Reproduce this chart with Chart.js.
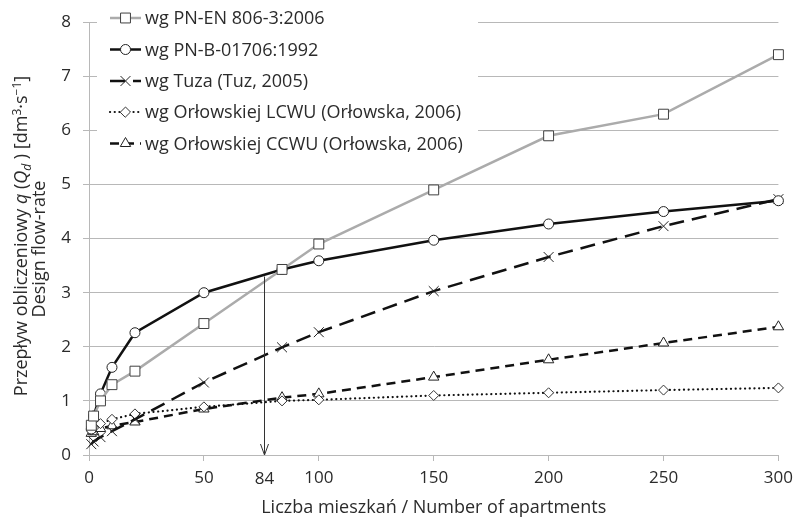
<!DOCTYPE html>
<html lang="pl">
<head>
<meta charset="UTF-8">
<title>Przepływ obliczeniowy</title>
<script src="https://cdn.jsdelivr.net/npm/chart.js"></script>
<style>
  html, body { margin: 0; padding: 0; background: #fff; }
</style>
</head>
<body>
<canvas id="flowChart" width="800" height="523"></canvas>
<script>
// number of apartments (x) and design flow-rate values [dm3/s]
const apartments = [1, 2, 5, 10, 20, 50, 84, 100, 150, 200, 250, 300];
const pnEn806 = [0.55, 0.72, 1.0, 1.3, 1.55, 2.43, 3.43, 3.9, 4.9, 5.9, 6.3, 7.4];
const pnB01706 = [0.48, 0.72, 1.13, 1.62, 2.26, 3.0, 3.43, 3.59, 3.97, 4.27, 4.5, 4.7];
const tuz = [0.2, 0.25, 0.33, 0.44, 0.66, 1.34, 1.99, 2.27, 3.03, 3.66, 4.23, 4.73];
const orlowskaLcwu = [0.46, 0.5, 0.58, 0.66, 0.76, 0.89, 1.0, 1.02, 1.1, 1.15, 1.2, 1.24];
const orlowskaCcwu = [0.4, 0.43, 0.49, 0.54, 0.61, 0.85, 1.06, 1.13, 1.44, 1.76, 2.07, 2.37];

const seriesLabels = [
    'wg PN-EN 806-3:2006',
    'wg PN-B-01706:1992',
    'wg Tuza (Tuz, 2005)',
    'wg Orłowskiej LCWU (Orłowska, 2006)',
    'wg Orłowskiej CCWU (Orłowska, 2006)'
];

// vertical arrow annotation ("84")
const arrowLabel = '84';
const arrowX = 76;
const arrowTop = 3.3;

const xTitle = 'Liczba mieszkań / Number of apartments';
const yTitleLine2 = 'Design flow-rate';

const FONT = '"Open Sans", Lato, sans-serif';
const TEXT = '#2b2b2b';
const GRID = '#b8b8b8';

const pts = (vals) => vals.map((v, i) => ({ x: apartments[i], y: v }));

const datasets = [
    { label: seriesLabels[0], data: pts(pnEn806), borderColor: '#ababab', borderWidth: 2.5,
      pointStyle: 'rect', pointRadius: 7, pointBorderColor: '#404040', pointBackgroundColor: '#fff', pointBorderWidth: 1 },
    { label: seriesLabels[1], data: pts(pnB01706), borderColor: '#111', borderWidth: 2.5,
      pointStyle: 'circle', pointRadius: 5, pointBorderColor: '#222', pointBackgroundColor: '#fff', pointBorderWidth: 1 },
    { label: seriesLabels[2], data: pts(tuz), borderColor: '#111', borderWidth: 2.5, borderDash: [15, 8],
      pointStyle: 'crossRot', pointRadius: 7, pointBorderColor: '#222', pointBackgroundColor: '#fff', pointBorderWidth: 1 },
    { label: seriesLabels[3], data: pts(orlowskaLcwu), borderColor: '#111', borderWidth: 2.2, borderDash: [0.1, 4.6],
      borderCapStyle: 'round',
      pointStyle: 'rectRot', pointRadius: 5, pointBorderColor: '#333', pointBackgroundColor: '#fff', pointBorderWidth: 1 },
    { label: seriesLabels[4], data: pts(orlowskaCcwu), borderColor: '#111', borderWidth: 2.5, borderDash: [9, 6],
      pointStyle: 'triangle', pointRadius: 6, pointBorderColor: '#222', pointBackgroundColor: '#fff', pointBorderWidth: 1 }
];
datasets.forEach(d => { d.fill = false; d.tension = 0; d.clip = false; d.backgroundColor = '#fff'; });

// legend box drawn inside the plot, over the gridlines
const legendBox = {
    id: 'legendBox',
    beforeDatasetsDraw(chart) {
        const ctx = chart.ctx;
        ctx.save();
        ctx.fillStyle = '#fff';
        ctx.fillRect(97, 3, 381, 165);
        ctx.restore();
    },
    afterDatasetsDraw(chart) {
        const ctx = chart.ctx;
        const rows = [18, 49.5, 81, 112, 143.5];
        chart.data.datasets.forEach((ds, i) => {
            const y = rows[i];
            ctx.save();
            ctx.strokeStyle = ds.borderColor;
            ctx.lineWidth = ds.borderWidth;
            ctx.lineCap = ds.borderCapStyle || 'butt';
            ctx.setLineDash(ds.borderDash || []);
            ctx.beginPath();
            ctx.moveTo(110, y);
            ctx.lineTo(141, y);
            ctx.stroke();
            ctx.setLineDash([]);
            ctx.strokeStyle = ds.pointBorderColor;
            ctx.fillStyle = ds.pointBackgroundColor;
            ctx.lineWidth = ds.pointBorderWidth;
            Chart.helpers.drawPoint(ctx, { pointStyle: ds.pointStyle, radius: ds.pointRadius, rotation: 0, borderWidth: 1 }, 125.5, y);
            ctx.fillStyle = TEXT;
            ctx.font = '18px ' + FONT;
            ctx.textBaseline = 'middle';
            ctx.fillText(ds.label, 145, y + 1);
            ctx.restore();
        });
    }
};

// arrow pointing to the intersection value on the x axis
const arrowPlugin = {
    id: 'arrowPlugin',
    afterDatasetsDraw(chart) {
        const { ctx, scales } = chart;
        const x = Math.round(scales.x.getPixelForValue(arrowX)) + 0.5;
        const y1 = scales.y.getPixelForValue(arrowTop);
        const y2 = scales.y.getPixelForValue(0);
        ctx.save();
        ctx.strokeStyle = '#333';
        ctx.lineWidth = 1;
        ctx.beginPath();
        ctx.moveTo(x, y1);
        ctx.lineTo(x, y2);
        ctx.moveTo(x - 4, y2 - 11);
        ctx.lineTo(x, y2);
        ctx.lineTo(x + 4, y2 - 11);
        ctx.stroke();
        ctx.fillStyle = TEXT;
        ctx.font = '17px ' + FONT;
        ctx.textAlign = 'center';
        ctx.textBaseline = 'middle';
        ctx.fillText(arrowLabel, x, 479);
        ctx.restore();
    }
};

// y axis title with italic symbols, subscript and superscripts
const yTitlePlugin = {
    id: 'yTitlePlugin',
    afterDraw(chart) {
        const ctx = chart.ctx;
        const size = 18;
        const parts = [
            { t: 'Przepływ obliczeniowy ', f: '' },
            { t: 'q', f: 'italic ' },
            { t: ' (', f: '' },
            { t: 'Q', f: 'italic ' },
            { t: 'd', f: 'italic ', s: 0.65, dy: 4 },
            { t: ' ) [dm', f: '' },
            { t: '3', f: '', s: 0.65, dy: -6 },
            { t: '·s', f: '' },
            { t: '−1', f: '', s: 0.65, dy: -6 },
            { t: ']', f: '' }
        ];
        const fontOf = p => p.f + Math.round(size * (p.s || 1)) + 'px ' + FONT;
        let total = 0;
        parts.forEach(p => { ctx.font = fontOf(p); p.w = ctx.measureText(p.t).width; total += p.w; });
        ctx.save();
        ctx.fillStyle = TEXT;
        ctx.textBaseline = 'alphabetic';
        ctx.translate(27, 236);
        ctx.rotate(-Math.PI / 2);
        let x = -total / 2;
        parts.forEach(p => {
            ctx.font = fontOf(p);
            ctx.fillText(p.t, x, p.dy || 0);
            x += p.w;
        });
        ctx.font = size + 'px ' + FONT;
        ctx.textAlign = 'center';
        ctx.fillText(yTitleLine2, -13, 18);
        ctx.restore();
    }
};

new Chart(document.getElementById('flowChart').getContext('2d'), {
    type: 'line',
    data: { datasets: datasets },
    options: {
        responsive: false,
        animation: false,
        devicePixelRatio: 1,
        layout: { padding: { left: 0, top: 17, right: 17, bottom: 0 } },
        plugins: {
            legend: { display: false },
            tooltip: { enabled: false }
        },
        scales: {
            x: {
                type: 'linear',
                min: 0,
                max: 300,
                ticks: { stepSize: 50, color: TEXT, font: { family: FONT, size: 17 }, padding: 7, maxRotation: 0 },
                grid: { drawOnChartArea: false, drawTicks: true, tickLength: 6, color: GRID },
                border: { color: GRID },
                title: { display: true, text: xTitle, color: TEXT, font: { family: FONT, size: 18 }, padding: { top: 4, bottom: 4 } },
                afterFit(scale) { scale.height = 68; }
            },
            y: {
                min: 0,
                max: 8,
                ticks: { stepSize: 1, color: TEXT, font: { family: FONT, size: 17 }, padding: 12 },
                grid: { color: GRID, tickLength: 6 },
                border: { color: GRID },
                afterFit(scale) { scale.width = 89; }
            }
        }
    },
    plugins: [legendBox, arrowPlugin, yTitlePlugin]
});
</script>
</body>
</html>
